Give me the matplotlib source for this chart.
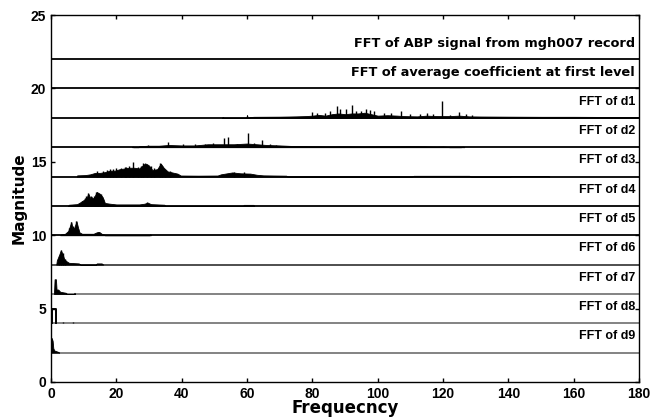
import matplotlib
matplotlib.use("Agg")
import matplotlib.pyplot as plt

plt.rcParams["font.family"] = ["Liberation Sans", "DejaVu Sans"]
plt.rcParams["font.weight"] = "bold"

# baselines and labels (top to bottom)
bases = [22, 20, 18, 16, 14, 12, 10, 8, 6, 4, 2]
labels = [
    "FFT of ABP signal from mgh007 record",
    "FFT of average coefficient at first level",
    "FFT of d1", "FFT of d2", "FFT of d3", "FFT of d4", "FFT of d5",
    "FFT of d6", "FFT of d7", "FFT of d8", "FFT of d9",
]
base_colors = ["black"] * 7 + ["#404040", "#7a7a7a", "#7a7a7a", "#7a7a7a"]

# envelopes (freq, magnitude above baseline)
d1_f = [52.3, 52.6, 52.9, 59.8, 60.0, 60.2, 61, 62, 70, 75, 78, 80, 82, 84, 86, 88, 90, 92,
        94, 96, 98, 100, 103, 106, 108, 112, 115, 118, 122, 125, 128, 132, 140, 150, 160, 170, 180]
d1_m = [0, 0.06, 0, 0, 0.2, 0, 0.05, 0.07, 0.08, 0.1, 0.12, 0.15, 0.2, 0.15, 0.25, 0.3, 0.25, 0.3,
        0.3, 0.35, 0.25, 0.15, 0.18, 0.15, 0.12, 0.1, 0.15, 0.12, 0.12, 0.15, 0.1, 0.09, 0.08, 0.07,
        0.07, 0.06, 0.06]
d1_sf = [79.8, 81.5, 84, 85.5, 87.6, 88.6, 90.4, 92.0, 93.5, 95, 96.5, 97.5, 99, 102, 104, 107,
         110, 113, 115, 117, 119.6, 122, 125, 127, 129]
d1_sm = [0.4, 0.3, 0.3, 0.45, 0.82, 0.57, 0.57, 0.9, 0.45, 0.45, 0.57, 0.55, 0.45, 0.3, 0.3, 0.5,
         0.25, 0.25, 0.3, 0.25, 1.13, 0.2, 0.4, 0.25, 0.2]

d2_f = [24.8, 25, 25.2, 26.8, 27, 30, 33, 36, 40, 44, 48, 52, 56, 60, 63, 66, 70, 74, 78, 80,
        85, 90, 95, 100, 105, 110, 114, 118, 120, 122, 125.5, 126, 126.5]
d2_m = [0, 0.05, 0, 0, 0.07, 0.1, 0.1, 0.15, 0.12, 0.12, 0.2, 0.2, 0.2, 0.25, 0.2, 0.15, 0.12,
        0.08, 0.07, 0.06, 0.05, 0.06, 0.05, 0.06, 0.06, 0.07, 0.06, 0.03, 0.05, 0, 0, 0.04, 0]
d2_sf = [29.8, 35.9, 40.5, 44, 47, 49.5, 53.0, 54.2, 57, 60.2, 62, 64.5, 67, 69]
d2_sm = [0.18, 0.32, 0.22, 0.2, 0.25, 0.28, 0.6, 0.68, 0.25, 0.97, 0.3, 0.5, 0.2, 0.18]

d3_f = [7.9, 8, 10.5, 12, 13.5, 15, 16.5, 18, 19.5, 21, 22.5, 24, 25.5, 27, 28.8, 30, 31, 32.5,
        33.6, 34.5, 35.7, 36.7, 37.7, 38.7, 39.7, 45, 51, 52, 55.5, 58, 61, 63, 65, 72, 72.3,
        110.5, 111, 128, 128.5, 140.5, 141, 152, 152.5]
d3_m = [0, 0.08, 0.1, 0.15, 0.25, 0.25, 0.3, 0.4, 0.4, 0.5, 0.55, 0.6, 0.6, 0.55, 0.9, 0.75,
        0.45, 0.5, 0.88, 0.6, 0.35, 0.3, 0.25, 0.2, 0.07, 0.06, 0.07, 0.15, 0.28, 0.22, 0.2, 0.12,
        0.08, 0.06, 0, 0, 0.05, 0.05, 0, 0, 0.04, 0.04, 0]
d3_sf = [14, 16, 17, 18, 19, 20, 21.5, 22.5, 23, 24, 25.2, 26.5, 27.5, 28.3, 29.5, 30.5, 31.5,
         33.3, 34, 35, 36.5, 56, 59]
d3_sm = [0.35, 0.38, 0.45, 0.5, 0.5, 0.55, 0.6, 0.62, 0.65, 0.7, 1.02, 0.65, 0.7, 0.9, 0.85,
         0.7, 0.6, 0.9, 0.75, 0.45, 0.38, 0.3, 0.28]

d4_f = [5.2, 5.5, 8, 9, 10, 11, 11.4, 12, 12.4, 13, 14, 15, 15.8, 16.5, 18, 20, 24, 27, 28.6,
        29.6, 30.6, 34.7, 35, 58.8, 59, 62, 62.2]
d4_m = [0, 0.08, 0.12, 0.25, 0.4, 0.6, 0.84, 0.55, 0.6, 0.5, 0.95, 0.82, 0.6, 0.2, 0.15, 0.1,
        0.1, 0.1, 0.15, 0.22, 0.12, 0.08, 0, 0, 0.07, 0.07, 0]
d4_sf = [9.5, 10.5, 10.8, 11.4, 12.2, 13.2, 13.8, 14.4, 15.2, 16, 29.5]
d4_sm = [0.35, 0.55, 0.7, 0.85, 0.65, 0.7, 0.95, 0.9, 0.8, 0.5, 0.25]

d5_f = [2.8, 3, 4.3, 5.3, 6.2, 6.6, 7.1, 7.8, 8.3, 8.7, 9.5, 13, 14, 14.8, 15.5, 16.2, 16.5,
        30.2, 30.4, 30.6]
d5_m = [0, 0.05, 0.1, 0.3, 0.9, 0.45, 0.5, 0.95, 0.5, 0.2, 0.1, 0.1, 0.2, 0.22, 0.1, 0.05, 0,
        0, 0.07, 0]
d5_sf = [5.6, 6.2, 6.8, 7.8, 8.4, 14.5]
d5_sm = [0.5, 0.9, 0.6, 0.95, 0.45, 0.22]

d6_f = [1.6, 1.8, 2.3, 3.0, 3.5, 4.0, 4.6, 5.5, 7, 8.5, 9, 13.8, 14, 15.5, 16]
d6_m = [0, 0.3, 0.55, 0.97, 0.75, 0.4, 0.25, 0.12, 0.1, 0.08, 0, 0, 0.08, 0.08, 0]
d6_sf = [2.5, 3.0, 3.6, 4.3]
d6_sm = [0.6, 0.97, 0.8, 0.35]

d7_f = [0.9, 1.1, 1.5, 1.7, 2.2, 2.8, 3.5, 4.5, 4.9, 7.0, 7.2, 7.4]
d7_m = [0, 1.0, 1.0, 0.3, 0.3, 0.15, 0.12, 0.08, 0, 0, 0.08, 0]

d8_f = [0.4, 0.4, 1.5, 1.5]
d8_m = [0, 0.98, 0.98, 0]
d8_sf = [3.8, 6.8]
d8_sm = [0.06, 0.06]

d9_f = [0, 0.2, 0.5, 0.7, 1.0, 1.6, 2.2, 2.5]
d9_m = [0, 1.0, 0.8, 0.3, 0.15, 0.1, 0.05, 0]

fills = {18: (d1_f, d1_m), 16: (d2_f, d2_m), 14: (d3_f, d3_m), 12: (d4_f, d4_m),
         10: (d5_f, d5_m), 8: (d6_f, d6_m), 6: (d7_f, d7_m), 2: (d9_f, d9_m)}
spikes = {18: (d1_sf, d1_sm), 16: (d2_sf, d2_sm), 14: (d3_sf, d3_sm), 12: (d4_sf, d4_sm),
          10: (d5_sf, d5_sm), 8: (d6_sf, d6_sm), 4: (d8_sf, d8_sm)}

fig = plt.figure(figsize=(6.65, 4.2), dpi=100)
ax = fig.add_axes([0.0767, 0.0905, 0.8843, 0.8735])

for i, (b, lab, c) in enumerate(zip(bases, labels, base_colors)):
    ax.axhline(b, color=c, lw=1.3, zorder=2)
    if i < 2:
        ax.text(178.8, b + 1.1, lab, ha="right", va="center", fontsize=9.3,
                fontweight="bold", family="DejaVu Sans")
    else:
        ax.text(178.8, b + 1.1, lab, ha="right", va="center", fontsize=9,
                fontweight="bold")

for b, (f, m) in fills.items():
    ax.fill_between(f, b, [b + v for v in m], color="black", lw=0.6, zorder=3)

for b, (f, m) in spikes.items():
    ax.vlines(f, b, [b + v for v in m], color="black", lw=1.0, zorder=3)

ax.plot(d8_f, [4 + v for v in d8_m], color="black", lw=1.4, zorder=3)

ax.set_xlim(0, 180)
ax.set_ylim(0, 25)
ax.set_xticks(range(0, 181, 20))
ax.set_yticks(range(0, 26, 5))
ax.tick_params(direction="in", length=3, width=1, top=True, right=True, labelsize=10)
for lbl in ax.get_xticklabels() + ax.get_yticklabels():
    lbl.set_fontweight("bold")
for s in ax.spines.values():
    s.set_linewidth(1.0)

ax.set_xlabel("Frequecncy", fontsize=12, fontweight="bold", family="DejaVu Sans", labelpad=-1)
ax.set_ylabel("Magnitude", fontsize=11, fontweight="bold", family="DejaVu Sans", labelpad=3)

fig.savefig("out.png", dpi=100)
